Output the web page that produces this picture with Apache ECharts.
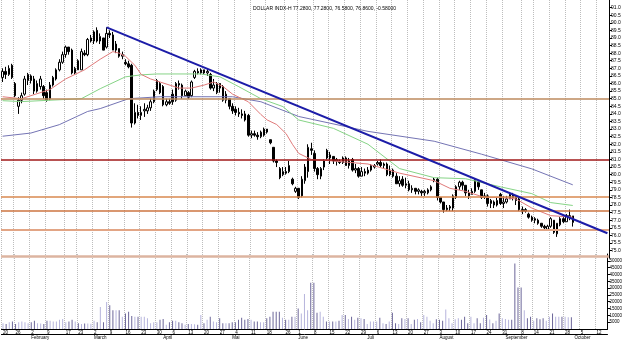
<!DOCTYPE html>
<html>
<head>
<meta charset="utf-8">
<script src="https://cdn.jsdelivr.net/npm/echarts@6/dist/echarts.min.js"></script>
<style>
  html, body { margin: 0; padding: 0; background: #fff; }
  #chart { width: 625px; height: 340px; }
</style>
</head>
<body>
<div id="chart"></div>
<script>
const TITLE = 'DOLLAR INDX-H 77.2800, 77.2800, 76.5800, 76.8600, -0.58000';
const FONT = '"Liberation Sans", Arial, sans-serif';

// daily bars, weekdays from 2009-01-20 : [open, close, low, high]
const candles = [
  [86.4,86.8,86.1,87.0],[86.8,86.6,86.3,87.1],[86.6,87.0,86.5,87.2],[87.2,86.4,86.3,87.3],[86.0,85.2,85.1,86.1],
  [84.5,84.9,84.0,85.1],[84.9,85.2,84.7,85.4],[85.3,86.3,85.2,86.5],[86.2,86.6,85.9,86.7],[86.5,86.2,86.0,86.6],
  [86.3,85.5,85.3,86.5],[85.5,86.0,85.4,86.2],[85.8,86.3,85.6,86.5],[85.8,85.2,85.0,85.9],[85.4,84.9,84.8,85.6],
  [85.0,85.9,84.9,86.1],[85.9,86.4,85.8,86.5],[86.3,86.9,86.2,87.0],[86.9,87.4,86.8,87.6],[87.4,87.9,87.3,88.1],
  [87.9,88.4,87.7,88.5],[88.4,88.1,87.9,88.4],[88.2,86.7,86.6,88.3],[86.7,87.0,86.6,87.1],[87.5,86.9,86.9,87.6],
  [86.9,88.1,86.9,88.3],[88.0,87.9,87.8,88.2],[87.9,88.9,87.8,89.0],[88.8,89.0,88.7,89.2],[88.8,89.4,88.6,89.5],
  [89.5,88.8,88.7,89.7],[88.8,89.1,88.6,89.3],[89.0,88.2,88.2,89.0],[88.4,89.3,88.3,89.7],[89.3,89.2,89.0,89.5],
  [89.2,88.2,88.2,89.4],[88.2,88.6,88.0,88.8],[88.3,87.8,87.7,88.3],[87.8,87.9,87.6,88.1],[87.4,87.3,87.2,87.6],
  [87.3,87.1,87.0,87.5],[87.2,83.4,83.1,87.3],[83.4,84.1,83.3,84.7],[84.1,83.9,83.7,84.6],[83.9,84.1,83.6,84.5],
  [84.2,84.3,83.8,84.7],[84.2,84.4,84.0,84.6],[84.4,84.8,84.2,85.0],[84.8,85.5,84.7,85.6],[85.6,86.2,85.5,86.3],
  [86.0,85.4,85.3,86.1],[85.8,84.6,84.5,85.9],[84.6,84.8,84.5,85.0],[84.8,84.7,84.6,85.0],[85.3,84.8,84.6,85.6],
  [84.9,86.0,84.8,86.1],[86.0,85.9,85.6,86.2],[85.9,85.2,85.0,86.0],[85.2,85.5,85.2,85.6],[85.4,85.1,85.0,85.5],
  [85.2,86.1,85.1,86.2],[86.4,86.8,86.3,86.9],[86.8,86.7,86.6,87.0],[86.7,86.9,86.6,87.0],[86.9,86.7,86.6,86.9],
  [86.7,86.8,86.5,87.0],[86.6,85.7,85.6,86.7],[85.7,85.9,85.5,86.3],[85.4,86.0,85.3,86.1],[86.0,85.7,85.4,86.0],
  [85.8,84.9,84.8,85.9],[84.9,85.3,84.7,85.5],[85.0,84.5,84.3,85.0],[84.5,84.2,84.0,84.7],[84.3,84.1,83.9,84.5],
  [84.1,84.0,83.8,84.4],[84.0,83.9,83.7,84.3],[84.0,83.6,83.5,84.2],[83.9,82.6,82.5,84.0],[82.6,82.7,82.4,82.9],
  [82.7,82.6,82.5,82.9],[82.6,82.5,82.3,82.8],[82.5,82.8,82.4,82.9],[82.6,83.0,82.5,83.1],[83.0,82.8,82.7,83.0],
  [82.3,82.1,82.0,82.3],[81.8,80.9,80.8,81.8],[80.9,80.8,80.5,81.0],[80.4,79.8,79.7,80.5],[80.0,80.2,79.9,80.5],
  [80.2,80.1,80.0,80.5],[80.2,80.6,80.1,80.9],[79.7,79.4,79.3,79.8],[78.9,79.1,78.8,79.2],[79.1,78.5,78.4,79.1],
  [78.6,79.7,78.5,79.9],[79.6,80.5,79.4,80.7],[80.2,81.8,79.8,82.0],[81.7,81.6,81.3,82.1],[81.4,80.4,80.2,81.6],
  [80.4,80.0,79.7,80.5],[79.9,80.4,79.7,80.5],[80.5,80.9,80.3,81.0],[81.6,81.1,81.0,81.7],[81.1,81.3,80.7,81.5],
  [81.2,80.9,80.7,81.2],[80.9,81.0,80.6,81.1],[80.9,80.8,80.7,81.0],[80.8,81.1,80.7,81.2],[81.1,80.6,80.6,81.2],
  [80.6,80.9,80.4,81.1],[81.0,80.3,80.2,81.1],[80.3,80.4,80.1,80.7],[80.4,79.9,79.8,80.5],[79.9,80.2,79.9,80.5],
  [80.2,80.1,79.9,80.4],[80.1,80.3,80.0,80.5],[80.3,80.6,80.2,80.7],[80.5,80.6,80.4,80.7],[80.7,80.8,80.6,80.9],
  [80.8,80.6,80.5,81.0],[80.6,80.7,80.4,80.8],[80.7,80.0,79.9,80.8],[80.0,80.3,79.9,80.6],[80.3,79.9,79.8,80.4],
  [79.9,79.4,79.4,80.1],[79.4,79.6,79.2,79.9],[79.7,79.3,79.2,79.9],[79.3,79.4,79.1,79.8],[79.4,79.0,78.9,79.6],
  [79.0,79.1,78.8,79.3],[79.1,78.9,78.7,79.1],[78.9,79.0,78.7,79.1],[78.9,78.8,78.6,79.0],[78.8,78.9,78.6,79.0],
  [78.8,79.0,78.7,79.1],[79.0,79.2,78.9,79.3],[79.6,79.7,79.5,79.8],[79.7,78.5,78.3,79.8],[78.5,78.2,78.1,78.5],
  [78.2,77.7,77.5,78.2],[77.7,77.8,77.6,78.0],[77.8,77.9,77.6,78.0],[77.8,78.6,77.6,78.7],[78.5,79.2,78.4,79.3],
  [79.2,79.5,79.0,79.6],[79.5,79.3,79.0,79.6],[79.3,78.8,78.6,79.3],[78.8,78.6,78.4,79.0],[78.7,78.9,78.7,79.1],
  [78.9,79.6,78.8,79.7],[79.5,79.2,79.0,79.6],[79.0,78.5,78.4,79.0],[78.5,78.6,78.4,78.8],[78.6,78.1,77.9,78.7],
  [78.1,78.3,77.8,78.4],[78.2,78.0,77.8,78.3],[78.0,78.3,77.9,78.5],[78.7,78.1,78.0,78.8],[78.1,78.2,77.8,78.6],
  [78.2,78.4,78.1,78.6],[78.4,78.7,78.4,78.8],[78.7,78.5,78.3,78.8],[78.5,78.3,78.0,78.6],[78.4,77.7,77.6,78.5],
  [77.7,77.6,77.4,77.9],[77.6,77.7,77.5,77.8],[77.4,77.2,77.1,77.5],[77.2,77.0,76.9,77.3],[77.0,77.1,76.8,77.2],
  [77.0,76.8,76.7,77.1],[76.8,76.6,76.5,76.8],[76.6,76.5,76.3,76.7],[76.4,76.6,76.3,76.7],[76.6,77.1,76.5,77.2],
  [77.0,76.2,76.1,77.0],[76.1,76.8,75.9,76.8],[76.7,77.1,76.6,77.2],[77.1,76.9,76.8,77.2],[76.9,77.3,76.9,77.4],
  [77.2,77.3,77.0,77.7],[77.28,76.86,76.58,77.28]
];

// volume, thousands of contracts
const volume = [
  4.3,3.6,5.0,5.5,3.6,5.0,5.5,5.0,4.3,5.0, 6.0,4.3,4.0,3.6,6.0,6.0,5.5,5.5,6.7,7.4,
  5.0,5.5,6.7,5.5,4.3,3.6,4.0,4.0,3.8,6.0, 5.0,16.2,5.0,19.8,17.4,13.8,13.8,13.8,9.0,11.4,
  12.6,9.5,9.0,9.0,9.0,9.0,7.9,4.3,5.0,5.0, 6.7,7.4,3.1,5.0,6.0,6.0,5.0,4.3,3.1,3.6,
  3.6,3.5,3.1,10.2,4.3,6.7,9.0,5.5,5.0,7.9, 4.3,4.3,4.3,5.0,5.0,6.7,8.3,6.7,7.4,6.7,
  5.5,5.5,5.0,5.0,7.9,9.0,12.6,12.6,12.6,8.3, 6.7,6.7,9.0,9.0,15.0,11.4,25.7,13.8,34,34,
  12.0,12.6,9.0,5.5,5.5,5.5,5.5,6.0,10.2,10.2, 7.4,9.0,6.7,8.3,7.9,7.4,3.6,5.5,5.5,5.5,
  8.3,4.3,3.6,5.5,11.9,4.3,3.6,7.9,7.4,7.9, 3.6,6.7,7.4,5.0,10.2,9.0,6.0,4.3,7.1,6.7,
  6.0,14.3,7.9,4.3,7.1,7.9,6.7,9.0,4.3,9.0, 4.3,7.9,4.3,8.3,10.2,7.0,4.3,6.0,11.4,7.9,
  7.4,6.7,6.7,48,30.4,30.4,13.8,7.9,9.0,6.0, 7.9,7.1,7.9,6.0,9.0,11.4,9.0,9.0,9.0,9.0,
  8.6,8.6
];

// moving averages: [bar index, value]
const maShort = [[0,85.13],[6,85.0],[15,85.6],[20,86.3],[26,86.9],[31,87.6],[35,88.1],[37,88.0],[39,87.8],[42,87.2],
  [44,86.6],[47,86.3],[50,86.1],[56,85.7],[60,85.7],[64,85.9],[67,86.1],[70,85.8],[73,85.3],[78,84.8],[82,83.96],
  [84,83.6],[87,83.3],[90,82.7],[92,82.0],[94,81.4],[98,81.0],[105,80.9],[116,80.7],[126,80.1],[137,79.6],[142,79.1],
  [147,78.9],[153,78.5],[158,78.5],[163,78.4],[168,77.8],[174,77.3],[181,77.2]];
const maMid = [[0,84.87],[6,84.81],[25,85.0],[31,85.66],[39,86.44],[44,86.57],[49,86.63],[63,86.63],[69,86.44],
  [75,85.79],[82,85.0],[89,84.48],[94,83.6],[105,83.05],[116,82.0],[126,80.4],[137,79.8],[147,79.73],[158,79.2],
  [168,78.75],[174,78.16],[181,77.97]];
const maLong = [[0,82.53],[9,82.74],[18,83.29],[27,84.16],[31,84.35],[40,85.0],[50,85.13],[63,85.13],[73,85.13],
  [82,84.8],[94,83.83],[116,82.85],[137,82.2],[152,81.35],[168,80.38],[181,79.33]];

const trendLine = [[33, 89.7], [192, 76.14]];
const levels = [
  [85.0, '#bd8a5e', 1.5], [81.0, '#a01818', 1.5], [78.55, '#d8884f', 1.5],
  [77.6, '#cc7440', 1.5], [76.35, '#e2a585', 2], [74.65, '#dcb4a0', 2.5]
];

const weekTicks = ['01-20','01-26','02-02','02-09','02-17','02-23','03-02','03-09','03-16','03-23','03-30',
  '04-06','04-13','04-20','04-27','05-04','05-11','05-18','05-26','06-01','06-08','06-15','06-22','06-29',
  '07-06','07-13','07-20','07-27','08-03','08-10','08-17','08-24','08-31','09-08','09-14','09-21','09-28',
  '10-05','10-12'];
const monthTicks = { '02-02': 'February', '03-02': 'March', '04-01': 'April', '05-01': 'Mai', '06-01': 'June',
  '07-01': 'Juli', '08-03': 'August', '09-01': 'September', '10-01': 'October' };

// weekday axis, 2009-01-20 .. 2009-10-15
const cats = [];
for (let d = new Date(Date.UTC(2009, 0, 20)); cats.length < 193; d.setUTCDate(d.getUTCDate() + 1)) {
  const wd = d.getUTCDay();
  if (wd === 0 || wd === 6) continue;
  cats.push(String(d.getUTCMonth() + 1).padStart(2, '0') + '-' + String(d.getUTCDate()).padStart(2, '0'));
}

const isWeek = (i, v) => weekTicks.indexOf(v) >= 0;
const isMonth = (i, v) => monthTicks[v] !== undefined;
const gridV = { show: true, interval: isWeek, lineStyle: { type: 'dotted', color: '#bdbdbd', width: 1 } };

const chart = echarts.init(document.getElementById('chart'), null, { renderer: 'canvas' });

chart.setOption({
  animation: false,
  backgroundColor: '#fff',
  title: {
    text: TITLE, left: 248, top: 1,
    textStyle: { fontSize: 5, fontWeight: 'normal', color: '#000', fontFamily: FONT }
  },
  grid: [
    { left: 1, right: 16, top: -2.67, height: 260.84 },
    { left: 1, right: 16, top: 254, height: 77 }
  ],
  xAxis: [
    { type: 'category', gridIndex: 0, data: cats, axisLine: { show: false }, axisTick: { show: false },
      axisLabel: { show: false }, splitLine: gridV },
    { type: 'category', gridIndex: 1, data: cats, axisLine: { lineStyle: { color: '#000', width: 1 } },
      axisTick: { interval: isWeek, length: 5, lineStyle: { color: '#000' } },
      axisLabel: { interval: isWeek, formatter: v => String(parseInt(v.slice(3), 10)), fontSize: 4.5,
        fontFamily: FONT, color: '#000', align: 'left', margin: 1 },
      splitLine: gridV },
    { type: 'category', gridIndex: 1, data: cats, position: 'bottom', offset: 5,
      axisLine: { lineStyle: { color: '#000', width: 1 } },
      axisTick: { interval: isMonth, length: 4, lineStyle: { color: '#000' } },
      axisLabel: { interval: isMonth, formatter: v => monthTicks[v] || '', fontSize: 4.5,
        fontFamily: FONT, color: '#000', align: 'left', margin: 1 } }
  ],
  yAxis: [
    { type: 'value', gridIndex: 0, position: 'right', min: 74.5, max: 91.5, interval: 0.5,
      splitLine: { show: false },
      axisLine: { show: true, lineStyle: { color: '#000' } },
      axisTick: { show: true, length: 3, lineStyle: { color: '#000' } },
      axisLabel: { fontSize: 5, margin: 2, color: '#000', fontFamily: FONT, formatter: v => v.toFixed(1),
        showMinLabel: false, showMaxLabel: false } },
    { type: 'value', gridIndex: 1, position: 'right', min: 0, max: 55000, interval: 5000,
      splitLine: { show: false },
      axisLine: { show: true, lineStyle: { color: '#000' } },
      axisTick: { show: true, length: 3, lineStyle: { color: '#000' } },
      axisLabel: { fontSize: 4.5, margin: 2, color: '#000', fontFamily: FONT, formatter: v => String(v),
        showMinLabel: false, showMaxLabel: false } }
  ],
  series: [
    { type: 'line', xAxisIndex: 0, yAxisIndex: 0, data: maLong, symbol: 'none', silent: true,
      lineStyle: { color: '#7474b4', width: 1 } },
    { type: 'line', xAxisIndex: 0, yAxisIndex: 0, data: maMid, symbol: 'none', silent: true,
      lineStyle: { color: '#86d486', width: 1 } },
    { type: 'line', xAxisIndex: 0, yAxisIndex: 0, data: maShort, symbol: 'none', silent: true,
      lineStyle: { color: '#e07a7a', width: 1 } },
    {
      type: 'candlestick', xAxisIndex: 0, yAxisIndex: 0, data: candles, barWidth: 2,
      itemStyle: { color: '#fff', color0: '#000', borderColor: '#000', borderColor0: '#000', borderWidth: 1 },
      markLine: {
        silent: true, symbol: ['none', 'none'], label: { show: false },
        data: levels.map(([v, c, w]) => ({ yAxis: v, lineStyle: { color: c, width: w, type: 'solid' } }))
          .concat([[
            { coord: trendLine[0], lineStyle: { color: '#1c1ca8', width: 2, type: 'solid' } },
            { coord: trendLine[1] }
          ]])
      }
    },
    {
      type: 'bar', xAxisIndex: 1, yAxisIndex: 1, barWidth: 1, silent: true,
      data: volume.map((v, i) => ({
        value: v * 1000,
        itemStyle: { color: candles[i][1] >= candles[i][0] ? '#b6b4dc' : '#6c6699' }
      }))
    }
  ]
});
</script>
</body>
</html>
